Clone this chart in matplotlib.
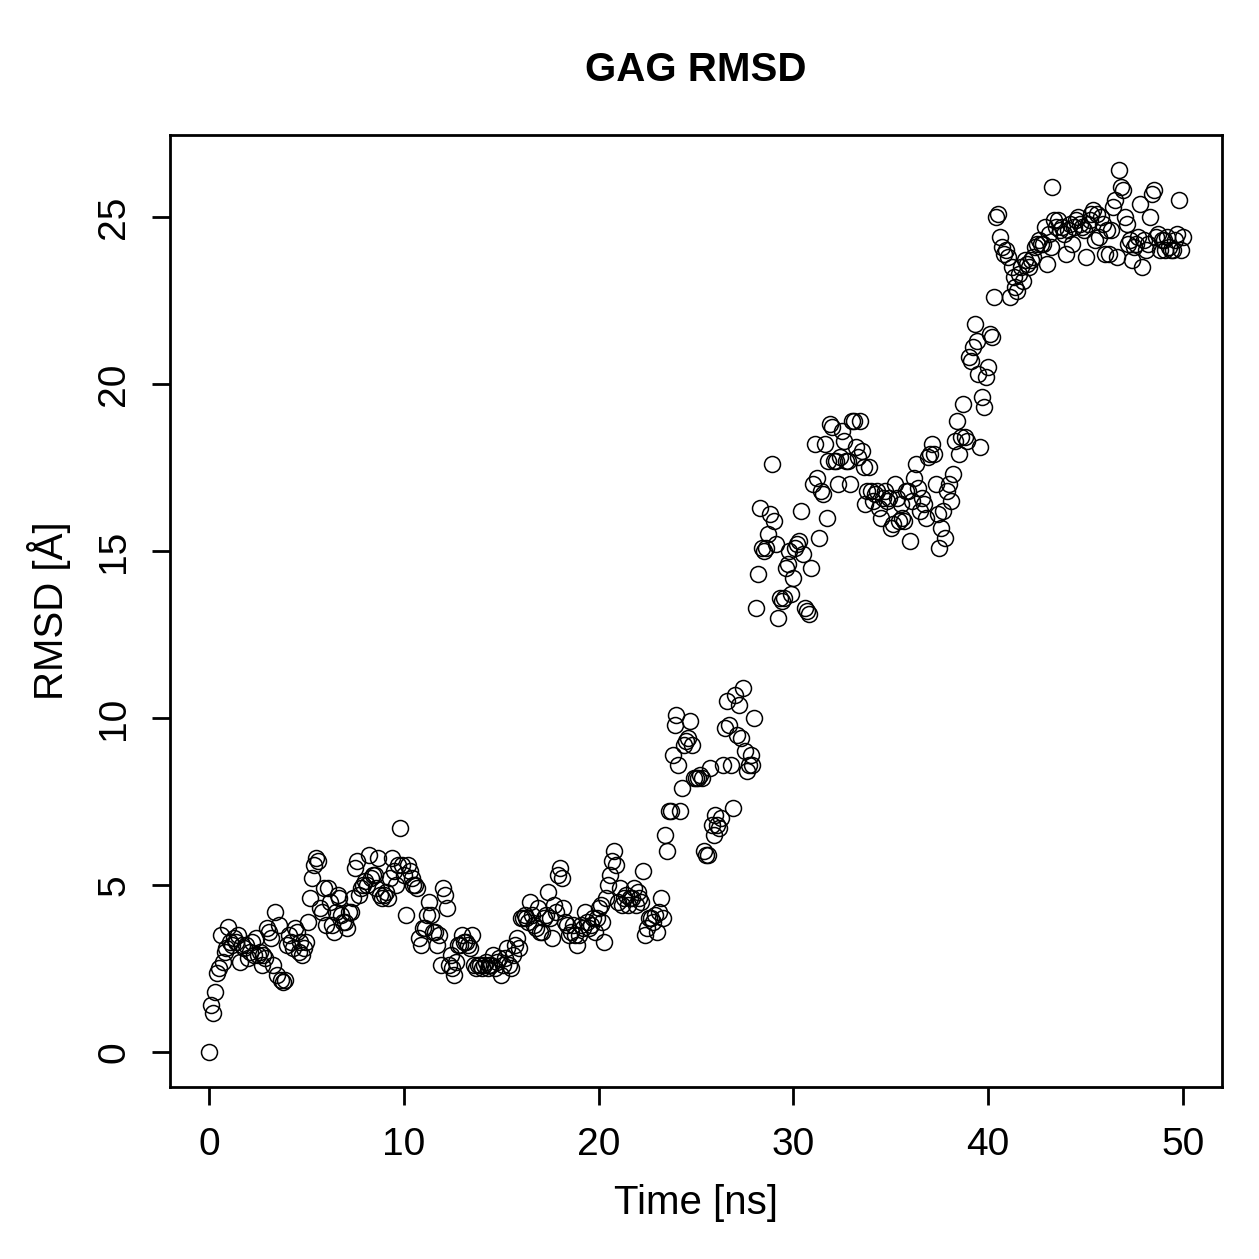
import numpy as np
import matplotlib.pyplot as plt

plt.rcParams['font.family'] = ['Liberation Sans', 'DejaVu Sans']

rmsd = [
    0.0, 1.4, 1.15, 1.8, 2.35, 2.5, 3.5, 2.7, 3.0, 3.1,
    3.75, 3.3, 3.2, 3.4, 3.3, 3.5, 2.7, 3.2, 3.1, 3.2,
    2.8, 3.0, 3.3, 2.9, 3.4, 2.9, 3.0, 2.6, 2.9, 2.8,
    3.7, 3.6, 3.4, 2.6, 4.2, 2.3, 3.8, 2.15, 2.1, 2.15,
    3.2, 3.5, 3.3, 3.1, 3.7, 3.6, 3.0, 3.3, 2.9, 3.1,
    3.3, 3.9, 4.6, 5.2, 5.6, 5.8, 5.7, 4.3, 4.2, 4.9,
    3.8, 4.9, 4.5, 3.8, 3.6, 4.2, 4.7, 4.6, 4.1, 3.9,
    3.9, 3.7, 4.2, 4.2, 4.6, 5.5, 5.7, 4.7, 4.9, 5.0,
    5.1, 5.0, 5.9, 5.2, 5.3, 5.3, 4.9, 5.8, 4.7, 4.6,
    4.7, 4.8, 4.6, 5.2, 5.8, 5.4, 5.0, 5.6, 6.7, 5.6,
    5.3, 4.1, 5.6, 5.4, 5.2, 5.0, 5.0, 4.9, 3.4, 3.2,
    3.7, 3.7, 4.1, 4.5, 4.1, 3.6, 3.6, 3.2, 3.5, 2.6,
    4.9, 4.7, 4.3, 2.6, 2.9, 2.5, 2.3, 2.7, 3.2, 3.2,
    3.5, 3.3, 3.3, 3.2, 3.1, 3.5, 2.6, 2.5, 2.6, 2.6,
    2.5, 2.6, 2.7, 2.5, 2.6, 2.6, 2.9, 2.5, 2.7, 2.8,
    2.3, 2.6, 2.8, 3.1, 2.6, 2.5, 2.9, 3.2, 3.4, 3.1,
    4.0, 4.0, 4.1, 4.0, 3.9, 4.5, 4.1, 3.8, 3.7, 4.3,
    3.6, 3.6, 4.0, 4.1, 4.8, 4.0, 3.4, 4.4, 4.2, 5.3,
    5.5, 5.2, 4.3, 3.9, 3.8, 3.5, 3.6, 3.8, 3.5, 3.2,
    3.5, 3.8, 3.7, 4.2, 3.9, 3.7, 3.8, 4.0, 3.6, 4.0,
    4.3, 4.4, 3.9, 3.3, 4.6, 5.0, 5.3, 5.7, 6.0, 5.6,
    4.5, 4.9, 4.4, 4.6, 4.7, 4.4, 4.6, 4.6, 4.9, 4.4,
    4.8, 4.6, 4.5, 5.4, 3.5, 3.7, 4.0, 4.0, 3.9, 4.1,
    3.6, 4.2, 4.6, 4.0, 6.5, 6.0, 7.2, 7.2, 8.9, 9.8,
    10.1, 8.6, 7.2, 7.9, 9.2, 9.3, 9.4, 9.9, 9.2, 8.2,
    8.2, 8.2, 8.3, 8.2, 6.0, 5.9, 5.9, 8.5, 6.8, 6.5,
    7.1, 6.8, 6.7, 7.0, 8.6, 9.7, 10.5, 9.8, 8.6, 7.3,
    10.7, 9.5, 10.4, 9.4, 10.9, 9.0, 8.4, 8.6, 8.9, 8.6,
    10.0, 13.3, 14.3, 16.3, 15.1, 15.0, 15.1, 15.5, 16.1, 17.6,
    15.9, 15.2, 13.0, 13.6, 13.5, 13.6, 14.5, 14.6, 15.0, 13.7,
    14.2, 15.1, 15.2, 15.3, 16.2, 14.9, 13.3, 13.2, 13.1, 14.5,
    17.0, 18.2, 17.2, 15.4, 16.8, 16.7, 18.2, 16.0, 17.7, 18.8,
    18.7, 17.7, 17.7, 17.0, 17.8, 18.6, 18.3, 17.7, 17.7, 17.0,
    18.9, 18.9, 18.1, 17.8, 18.9, 18.0, 17.5, 16.4, 16.8, 17.5,
    16.8, 16.5, 16.7, 16.8, 16.3, 16.0, 16.6, 16.8, 16.5, 16.6,
    15.7, 15.8, 17.0, 16.6, 15.9, 16.4, 16.0, 15.9, 16.8, 16.8,
    15.3, 16.5, 17.2, 17.6, 16.9, 16.2, 16.6, 16.4, 16.0, 17.8,
    17.9, 18.2, 17.9, 17.0, 16.1, 15.1, 15.7, 16.2, 15.4, 16.8,
    17.0, 16.5, 17.3, 18.3, 18.9, 17.9, 18.4, 19.4, 18.4, 18.3,
    20.8, 20.7, 21.1, 21.8, 21.3, 20.3, 18.1, 19.6, 19.3, 20.2,
    20.5, 21.5, 21.4, 22.6, 25.0, 25.1, 24.4, 24.1, 23.9, 24.0,
    23.8, 22.6, 23.5, 23.2, 22.9, 22.8, 23.3, 23.5, 23.1, 23.7,
    23.6, 23.5, 23.7, 23.8, 24.1, 24.2, 24.3, 24.2, 24.2, 24.7,
    23.6, 24.5, 24.1, 25.9, 24.9, 24.7, 24.9, 24.6, 24.7, 24.5,
    23.9, 24.6, 24.8, 24.2, 24.7, 24.9, 25.0, 24.8, 24.7, 24.6,
    23.8, 24.8, 24.9, 25.1, 25.2, 24.3, 25.1, 24.4, 25.0, 24.8,
    23.9, 24.6, 23.9, 24.6, 25.3, 25.5, 23.8, 26.4, 25.9, 25.8,
    25.0, 24.8, 24.2, 24.3, 23.7, 24.1, 24.2, 24.4, 25.4, 23.5,
    24.3, 24.0, 24.2, 25.0, 25.7, 25.8, 24.4, 24.5, 24.0, 24.3,
    24.3, 24.0, 24.4, 24.1, 24.0, 24.0, 24.3, 24.5, 25.5, 24.0,
    24.4,
]
time_ns = np.arange(len(rmsd)) * 0.1

fig = plt.figure(figsize=(12.59, 12.59), dpi=100)
ax = fig.add_axes([0.135, 0.1366, 0.8356, 0.7562])

ax.plot(time_ns, rmsd, linestyle='none', marker='o', markersize=11.5,
        markerfacecolor='none', markeredgecolor='black', markeredgewidth=1.1)

ax.set_xlim(-2, 52)
ax.set_ylim(-1.056, 27.46)
ax.set_xticks(range(0, 51, 10))
ax.set_yticks(range(0, 26, 5))
ax.tick_params(labelsize=28, length=13, width=2.0, direction='out')
ax.tick_params(axis='x', pad=16)
ax.tick_params(axis='y', pad=14)
for lab in ax.get_yticklabels():
    lab.set_rotation(90)
    lab.set_va('center')
for s in ax.spines.values():
    s.set_linewidth(2.0)

ax.set_xlabel('Time [ns]', fontsize=29, labelpad=15)
ax.set_ylabel('RMSD [Å]', fontsize=29, labelpad=18)
ax.set_title('GAG RMSD', fontsize=29, fontweight='bold', pad=39)

fig.savefig('out.png', dpi=100)
